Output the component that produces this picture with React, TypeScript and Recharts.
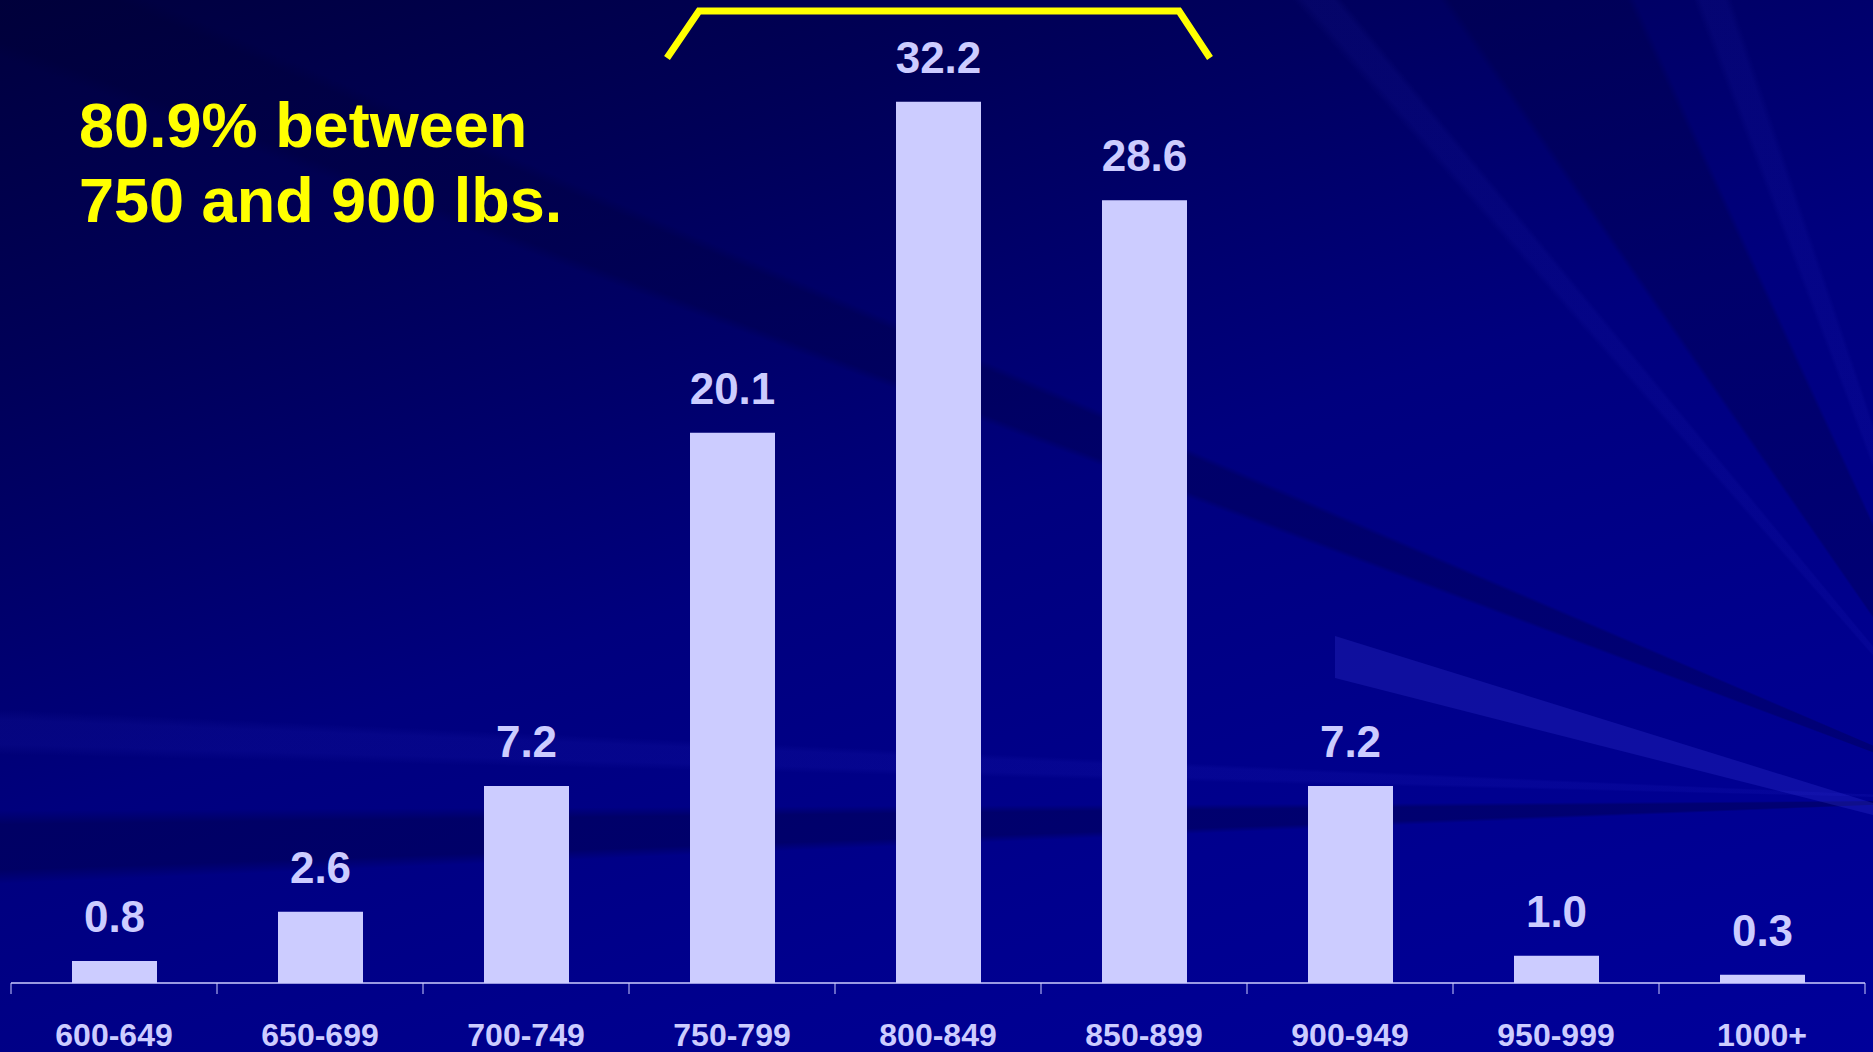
import * as React from "react";
import { Bar, BarChart, LabelList, XAxis, YAxis } from "recharts";

const weightClasses = [
    "600-649",
    "650-699",
    "700-749",
    "750-799",
    "800-849",
    "850-899",
    "900-949",
    "950-999",
    "1000+",
];
const percentOfCattle = [0.8, 2.6, 7.2, 20.1, 32.2, 28.6, 7.2, 1.0, 0.3];
const titleLines = ["80.9% between", "750 and 900 lbs."];

const W = 1873;
const H = 1052;
const MARGIN = { top: 25, right: 8, bottom: 0, left: 11 };
const BAR_COLOR = "#ccccff";
const FONT = "'Liberation Sans', Arial, Helvetica, sans-serif";
// half of one category band, used to put tick marks between categories
const HALF_BAND = (W - MARGIN.left - MARGIN.right) / weightClasses.length / 2;

const data = weightClasses.map((name, i) => ({
    name,
    value: percentOfCattle[i],
}));

const CategoryTick = (props: any) => {
    const { x, y, payload, index, visibleTicksCount } = props;
    const last = index === visibleTicksCount - 1;
    return (
        <g>
            <line
                x1={x - HALF_BAND}
                x2={x - HALF_BAND}
                y1={y}
                y2={y + 11}
                stroke={BAR_COLOR}
                strokeWidth={1}
            />
            {last && (
                <line
                    x1={x + HALF_BAND}
                    x2={x + HALF_BAND}
                    y1={y}
                    y2={y + 11}
                    stroke={BAR_COLOR}
                    strokeWidth={1}
                />
            )}
            <text
                x={x}
                y={y + 63}
                textAnchor="middle"
                fill={BAR_COLOR}
                fontFamily={FONT}
                fontWeight="bold"
                fontSize={32}
            >
                {payload.value}
            </text>
        </g>
    );
};

// faint light / dark rays fanning out from the right side of the slide
const rays = `conic-gradient(from 0deg at 2000px 800px,
    rgba(0,0,0,0) 0deg 267.6deg,
    rgba(0,0,40,0.3) 268deg 269.3deg,
    rgba(0,0,0,0) 269.7deg 271.3deg,
    rgba(60,60,230,0.09) 271.6deg 272.3deg,
    rgba(0,0,0,0) 272.6deg 290.4deg,
    rgba(0,0,50,0.28) 290.8deg 293deg,
    rgba(0,0,0,0) 293.4deg 318.5deg,
    rgba(60,60,230,0.08) 319deg 320.2deg,
    rgba(0,0,0,0) 320.6deg 325deg,
    rgba(0,0,60,0.3) 325.5deg 335deg,
    rgba(0,0,0,0) 335.5deg 339deg,
    rgba(60,60,230,0.08) 339.5deg 341deg,
    rgba(0,0,0,0) 341.5deg)`;

const background = [
    rays,
    "linear-gradient(162deg, #00003e 0%, #000058 22%, #00007e 50%, #00008e 75%, #00009a 100%)",
].join(", ");

export default function App() {
    return (
        <div
            style={{
                position: "absolute",
                left: 0,
                top: 0,
                width: W,
                height: H,
                overflow: "hidden",
                background,
            }}
        >
            <div
                style={{
                    position: "absolute",
                    left: 0,
                    top: 0,
                    width: W,
                    height: H,
                    background: "rgba(70,70,230,0.22)",
                    clipPath: "polygon(1335px 636px, 1873px 803px, 1873px 815px, 1335px 678px)",
                }}
            />
            <BarChart
                width={W}
                height={H}
                data={data}
                margin={MARGIN}
                barSize={85}
                style={{ position: "relative" }}
            >
                <YAxis hide domain={[0, 35]} />
                <XAxis
                    dataKey="name"
                    height={69}
                    axisLine={{ stroke: BAR_COLOR, strokeWidth: 1.5 }}
                    tickLine={false}
                    tickSize={0}
                    tickMargin={0}
                    interval={0}
                    tick={<CategoryTick />}
                />
                <Bar dataKey="value" fill={BAR_COLOR} isAnimationActive={false}>
                    <LabelList
                        dataKey="value"
                        position="top"
                        offset={29}
                        formatter={(v: any) => Number(v).toFixed(1)}
                        fill={BAR_COLOR}
                        fontFamily={FONT}
                        fontWeight="bold"
                        fontSize={44}
                    />
                </Bar>
            </BarChart>
            <svg
                width={W}
                height={H}
                style={{ position: "absolute", left: 0, top: 0, pointerEvents: "none" }}
            >
                <polyline
                    points="667,58 699,11 1179,11 1210,58"
                    fill="none"
                    stroke="#ffff00"
                    strokeWidth={7}
                    strokeLinejoin="miter"
                />
                {titleLines.map((line, i) => (
                    <text
                        key={line}
                        x={79}
                        y={147 + i * 75}
                        fill="#ffff00"
                        fontFamily={FONT}
                        fontWeight="bold"
                        fontSize={63}
                    >
                        {line}
                    </text>
                ))}
            </svg>
        </div>
    );
}
